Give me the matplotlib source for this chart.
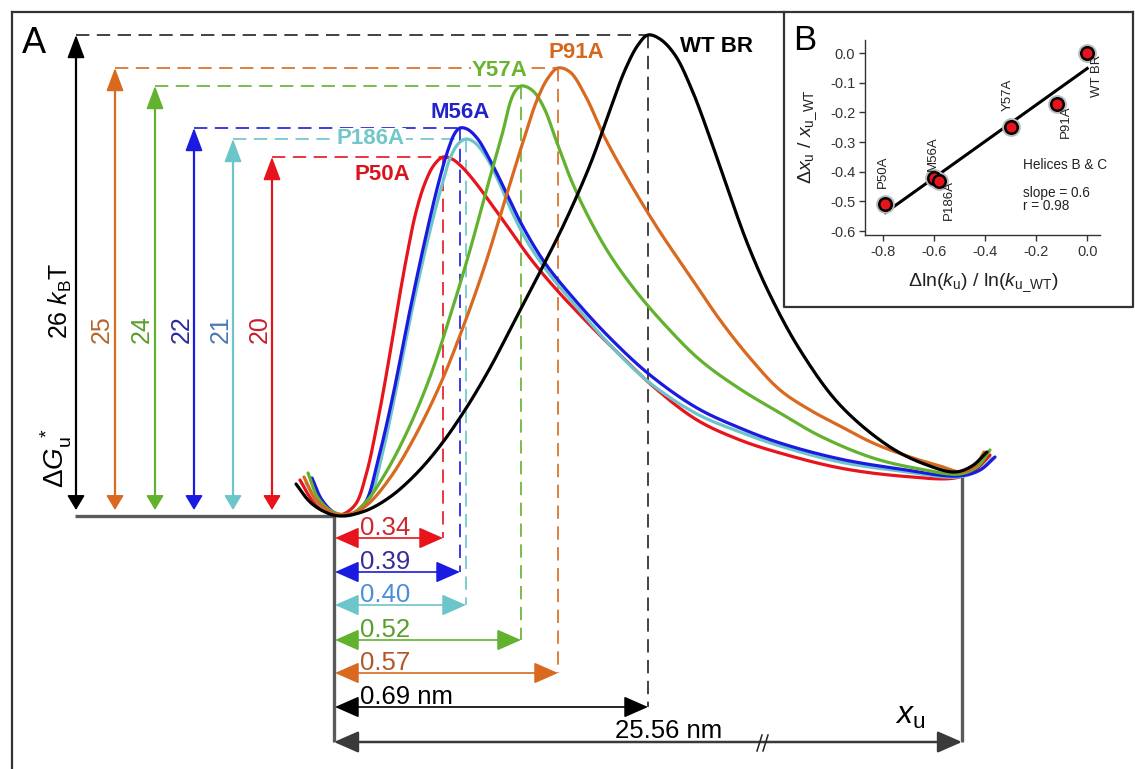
import numpy as np
import matplotlib
matplotlib.use("Agg")
import matplotlib.pyplot as plt

plt.rcParams['font.family'] = ['Liberation Sans', 'DejaVu Sans']
plt.rcParams['mathtext.fontset'] = 'custom'
plt.rcParams['mathtext.rm'] = 'Liberation Sans'
plt.rcParams['mathtext.it'] = 'Liberation Sans:italic'
plt.rcParams['mathtext.bf'] = 'Liberation Sans:bold'

# ---------------- data ----------------
mutants = ['WT BR', 'P91A', 'Y57A', 'M56A', 'P186A', 'P50A']
barrier_kBT = [26, 25, 24, 22, 21, 20]
xu_nm = [0.69, 0.57, 0.52, 0.39, 0.40, 0.34]
xu_total_nm = 25.56

# schematic energy profiles (drawing frame, y downward)
wt_x = [296, 310, 325, 340, 365, 390, 415, 440, 465, 490, 515, 540, 565, 590, 610, 625, 638, 648,
        660, 675, 692, 710, 728, 748, 770, 800, 840, 890, 927, 955, 972, 987]
wt_y = [484, 502, 512, 516, 511, 497, 475, 446, 410, 368, 320, 272, 222, 165, 110, 70, 45, 35,
        39, 55, 90, 138, 190, 245, 295, 350, 405, 447, 465, 472, 466, 452]
p91a_x = [304, 316, 333, 350, 367, 390, 413, 440, 465, 485, 505, 522, 537, 548, 558, 570, 585, 605,
          630, 660, 690, 720, 750, 780, 810, 840, 873, 910, 940, 962, 975, 984]
p91a_y = [477, 500, 513, 514, 505, 478, 440, 385, 322, 265, 200, 145, 100, 78, 68, 72, 95, 138,
          183, 232, 276, 320, 358, 390, 410, 426, 443, 457, 466, 472, 466, 452]
y57a_x = [308, 318, 333, 350, 365, 385, 407, 430, 452, 470, 487, 502, 511, 516, 521, 527, 535, 545,
          556, 572, 590, 610, 635, 665, 700, 740, 780, 820, 873, 920, 960, 978, 990]
y57a_y = [473, 498, 512, 514, 503, 474, 432, 377, 310, 250, 188, 135, 100, 90, 86, 87, 93, 110,
          140, 182, 220, 255, 290, 325, 360, 389, 413, 436, 458, 469, 474, 466, 450]
m56a_x = [312, 322, 335, 350, 365, 378, 392, 410, 425, 438, 448, 455, 460, 467, 477, 490, 505, 522,
          545, 575, 610, 650, 697, 740, 780, 840, 900, 958, 980, 995]
m56a_y = [478, 500, 513, 515, 503, 460, 400, 310, 240, 185, 150, 133, 128, 129, 138, 160, 190, 225,
          263, 300, 338, 375, 408, 428, 443, 459, 469, 476, 470, 457]
p186a_x = [306, 318, 335, 352, 368, 382, 395, 412, 427, 440, 451, 459, 466, 474, 485, 498, 512, 528,
           550, 575, 610, 650, 697, 740, 780, 840, 900, 958, 980, 992]
p186a_y = [483, 503, 514, 515, 502, 455, 395, 310, 243, 192, 156, 143, 139, 142, 155, 180, 212, 243,
           275, 305, 345, 383, 414, 432, 446, 462, 471, 477, 470, 458]
p50a_x = [300, 312, 325, 340, 355, 366, 377, 388, 398, 407, 416, 425, 434, 443, 452, 462, 475, 492,
          510, 530, 555, 585, 620, 655, 697, 740, 780, 840, 900, 955, 975, 990]
p50a_y = [480, 500, 511, 515, 505, 475, 425, 365, 305, 255, 212, 183, 165, 157, 159, 167, 182, 205,
          230, 258, 288, 320, 355, 388, 420, 440, 453, 468, 476, 478, 470, 455]

# inset data
dln_ku = [0.0, -0.12, -0.30, -0.60, -0.58, -0.79]
dxu = [0.0, -0.17, -0.25, -0.42, -0.43, -0.51]

# ---------------- styles ----------------
curve_col = ['#000000', '#d8691f', '#62b22f', '#1a1ae0', '#6cc5c9', '#e8141c']
label_col = ['#000000', '#d2691e', '#6ab42f', '#2323cc', '#73c6c9', '#d8141c']
num_col = ['#000000', '#b5652b', '#5a9e2c', '#2a2aa0', '#4a78b8', '#c8202a']
curves = [(wt_x, wt_y), (p91a_x, p91a_y), (y57a_x, y57a_y),
          (m56a_x, m56a_y), (p186a_x, p186a_y), (p50a_x, p50a_y)]


def catmull(xs, ys, n=30):
    P = np.column_stack([xs, ys]).astype(float)
    P = np.vstack([2 * P[0] - P[1], P, 2 * P[-1] - P[-2]])
    out = []
    for i in range(1, len(P) - 2):
        p0, p1, p2, p3 = P[i - 1], P[i], P[i + 1], P[i + 2]
        t0 = 0.0
        t1 = t0 + np.linalg.norm(p1 - p0) ** 0.5
        t2 = t1 + np.linalg.norm(p2 - p1) ** 0.5
        t3 = t2 + np.linalg.norm(p3 - p2) ** 0.5
        t = np.linspace(t1, t2, n, endpoint=False)[:, None]
        A1 = (t1 - t) / (t1 - t0) * p0 + (t - t0) / (t1 - t0) * p1
        A2 = (t2 - t) / (t2 - t1) * p1 + (t - t1) / (t2 - t1) * p2
        A3 = (t3 - t) / (t3 - t2) * p2 + (t - t2) / (t3 - t2) * p3
        B1 = (t2 - t) / (t2 - t0) * A1 + (t - t0) / (t2 - t0) * A2
        B2 = (t3 - t) / (t3 - t1) * A2 + (t - t1) / (t3 - t1) * A3
        C = (t2 - t) / (t2 - t1) * B1 + (t - t1) / (t2 - t1) * B2
        out.append(C)
    out.append(P[-2][None, :])
    C = np.vstack(out)
    return C[:, 0], C[:, 1]


W, H = 1135, 769
fig = plt.figure(figsize=(W / 100, H / 100), dpi=100)
ax = fig.add_axes([0, 0, 1, 1])
ax.set_xlim(0, W)
ax.set_ylim(H, 0)
ax.axis('off')


def arrow(x0, y0, x1, y1, color, lw, style='<|-|>', hl=0.5, hw=0.3, ms=20, z=3):
    ax.annotate('', xy=(x1, y1), xytext=(x0, y0),
                arrowprops=dict(arrowstyle=f'{style},head_length={hl},head_width={hw}',
                                color=color, lw=lw, shrinkA=0, shrinkB=0,
                                mutation_scale=ms), zorder=z)


dash = (0, (8, 4.5))
grey = '#5a5a5a'

# frame
ax.plot([12, 12], [12, H], color='#333333', lw=1.6)
ax.plot([12, 1133], [12, 12], color='#333333', lw=1.6)
ax.plot([784, 784, 1133, 1133], [12, 307, 307, 12], color='#333333', lw=1.6)

base_y = 516
left_x = 334
right_x = 962
bottom_y = 742
arrow_x = [76, 115, 155, 194, 233, 272]
dist_y = [707, 673, 640, 572, 605, 538]
num_x = [None, 102, 142, 182, 221, 260]

# baseline and x axis
ax.plot([75, left_x], [base_y, base_y], color=grey, lw=2.4, solid_capstyle='butt', zorder=2)
ax.plot([left_x, left_x], [base_y, bottom_y], color=grey, lw=2.4, solid_capstyle='butt', zorder=2)
ax.plot([right_x, right_x], [477, bottom_y], color=grey, lw=2.4, solid_capstyle='butt', zorder=2)
arrow(left_x, bottom_y, right_x, bottom_y, '#3a3a3a', 1.8, hl=0.75, hw=0.33, ms=20)
# break mark
ax.plot([757, 762], [751, 735], color='#222', lw=1.1, zorder=4)
ax.plot([763, 768], [751, 735], color='#222', lw=1.1, zorder=4)

# peaks from curves
peaks = []
for (cx, cy) in curves:
    i = int(np.argmin(cy))
    peaks.append((cx[i], cy[i]))

for k in range(6):
    px, py = peaks[k]
    col = curve_col[k]
    dcol = '#222222' if k == 0 else col
    # vertical barrier arrow: long head on top, short head at bottom
    ax.plot([arrow_x[k], arrow_x[k]], [base_y - 12, py + 10], color=col, lw=1.6, zorder=3)
    arrow(arrow_x[k], py + 30, arrow_x[k], py, col, 1.2, style='-|>', hl=0.72, hw=0.27)
    arrow(arrow_x[k], base_y - 40, arrow_x[k], base_y - 6, col, 1.2, style='-|>', hl=0.45, hw=0.27)
    # dashed guide lines
    ax.plot([arrow_x[k], px], [py, py], color=dcol, lw=1.2, ls=dash, zorder=1)
    ax.plot([px, px], [py, dist_y[k]], color=dcol, lw=1.2, ls=dash, zorder=1)
    # distance arrow
    arrow(left_x + 1, dist_y[k], px, dist_y[k], col, 1.2, hl=0.75, hw=0.33, ms=20)

# curves
order = [5, 4, 3, 2, 1, 0]
for k in order:
    sx, sy = catmull(*curves[k])
    ax.plot(sx, sy, color=curve_col[k], lw=2.3, solid_capstyle='round', zorder=5)

# curve labels
lab_pos = [(680, 47), (548, 52), (472, 71), (430, 113), (337, 139), (354, 174)]
for k in range(6):
    bb = dict(facecolor='white', edgecolor='none', pad=0.5) if k in (2, 4) else None
    ax.text(lab_pos[k][0], lab_pos[k][1], mutants[k], color=label_col[k], fontsize=16,
            fontweight='bold', ha='left', va='center', bbox=bb, zorder=6)

# barrier values on left
ax.text(60, 301, f'{barrier_kBT[0]} ' + r'$k_\mathrm{B}$T', rotation=90, fontsize=18,
        ha='center', va='center', color='black')
ax.text(56, 458, r'$\Delta G_\mathrm{u}^{\ *}$', rotation=90, fontsize=20,
        ha='center', va='center', color='black')
for k in range(1, 6):
    ax.text(num_x[k], 329, str(barrier_kBT[k]), rotation=90, fontsize=18,
            ha='center', va='center', color=num_col[k])

# distance labels
dist_lab_col = ['#000000', '#b0582a', '#5a9e2c', '#3a2b9a', '#4a8fd8', '#d0262d']
for k in range(6):
    s = f'{xu_nm[k]:.2f}' + (' nm' if k == 0 else '')
    ax.text(360, dist_y[k] - 3, s, fontsize=18.5, color=dist_lab_col[k],
            ha='left', va='baseline', zorder=6)
ax.text(615, 738, f'{xu_total_nm:.2f} nm', fontsize=18.5, color='black', ha='left', va='baseline')
ax.text(895, 724, r'$x_\mathrm{u}$', fontsize=23, color='black', ha='left', va='baseline')

# panel letters
ax.text(22, 53, 'A', fontsize=26, ha='left', va='baseline')
ax.text(793, 50, 'B', fontsize=25, ha='left', va='baseline')

# ---------------- inset ----------------
axi = fig.add_axes([865 / W, 1 - 235 / H, 235 / W, 195 / H])
axi.set_xlim(-0.87, 0.05)
axi.set_ylim(-0.613, 0.044)
for s in ['top', 'right']:
    axi.spines[s].set_visible(False)
for s in ['left', 'bottom']:
    axi.spines[s].set_linewidth(1.0)
    axi.spines[s].set_color('#333333')
axi.set_facecolor('none')
xt = [-0.8, -0.6, -0.4, -0.2, 0.0]
yt = [0.0, -0.1, -0.2, -0.3, -0.4, -0.5, -0.6]
axi.set_xticks(xt)
axi.set_xticklabels([f'{v:.1f}' for v in xt])
axi.set_yticks(yt)
axi.set_yticklabels(['0.0'] + [f'{v:.1f}' for v in yt[1:]])
axi.tick_params(direction='out', length=4, width=1, labelsize=10.5, pad=3, colors='#333333')

slope, icpt = np.polyfit(dln_ku, dxu, 1)
fx = np.array([min(dln_ku), max(dln_ku)])
axi.plot(fx, slope * fx + icpt, color='black', lw=2.2, zorder=2)
axi.plot(dln_ku, dxu, 'o', ms=12, mfc='none', mec='#bbbbbb', mew=1.5, zorder=3)
axi.plot(dln_ku, dxu, 'o', ms=9, mfc='#e8141c', mec='black', mew=1.8, zorder=4)

ilab = [(0.04, -0.078), (-0.085, -0.23), (-0.31, -0.14), (-0.605, -0.34), (-0.54, -0.495), (-0.80, -0.40)]
for k in range(6):
    axi.text(ilab[k][0], ilab[k][1], mutants[k], rotation=90, fontsize=9.5,
             ha='center', va='center', color='#222222')
axi.text(-0.25, -0.377, 'Helices B & C', fontsize=9.8, ha='left', va='center', color='#222222')
axi.text(-0.25, -0.47, f'slope = {slope:.1f}', fontsize=9.8, ha='left', va='center', color='#222222')
axi.text(-0.25, -0.515, 'r = 0.98', fontsize=9.8, ha='left', va='center', color='#222222')

ax.text(808, 137, r'$\Delta x_\mathrm{u}$ / $x_\mathrm{u\_WT}$', rotation=90, fontsize=14,
        ha='center', va='center', color='#222222')
ax.text(983, 283, r'$\Delta$ln($k_\mathrm{u}$) / ln($k_\mathrm{u\_WT}$)', fontsize=14,
        ha='center', va='center', color='#222222')

fig.savefig('out.png', dpi=100)
